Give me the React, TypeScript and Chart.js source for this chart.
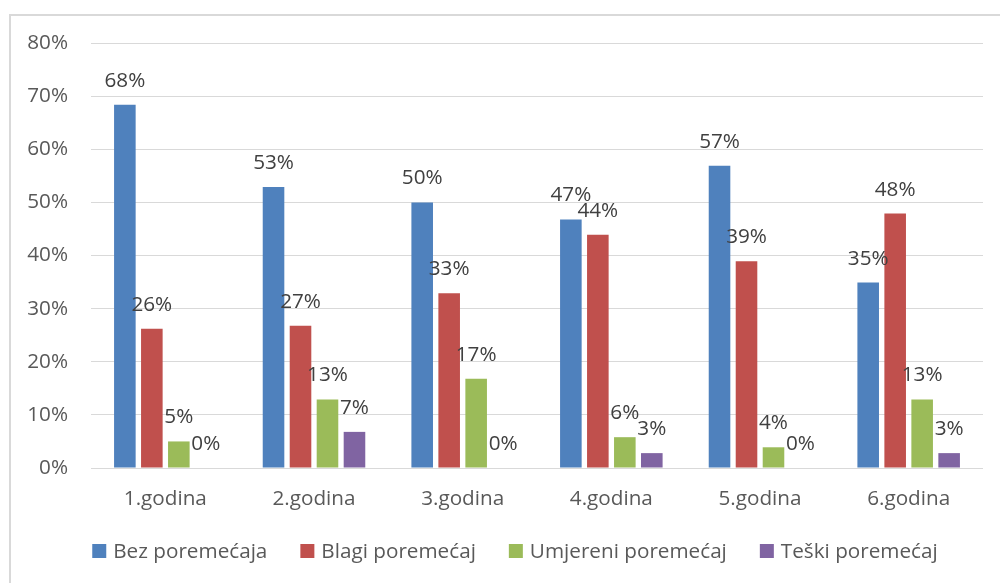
import React, { useEffect, useRef } from 'react';
import { Chart, registerables } from 'chart.js';

Chart.register(...registerables);

const categories = ['1.godina', '2.godina', '3.godina', '4.godina', '5.godina', '6.godina'];
const seriesNames = ['Bez poremećaja', 'Blagi poremećaj', 'Umjereni poremećaj', 'Teški poremećaj'];
const bezPoremecaja = [68.4, 52.9, 50.0, 46.8, 56.9, 34.9];
const blagiPoremecaj = [26.2, 26.8, 32.9, 43.9, 38.9, 47.9];
const umjereniPoremecaj = [5.0, 12.9, 16.8, 5.8, 3.9, 12.9];
const teskiPoremecaj = [0, 6.8, 0, 2.8, 0, 2.8];
const seriesColors = ['#4F81BD', '#C0504D', '#9BBB59', '#8064A2'];
const yMin = 0;
const yMax = 80;
const yStep = 10;

const FONT = '"Open Sans", "DejaVu Sans", sans-serif';
const FS = 20.7;

const framePlugin = {
  id: 'frame',
  beforeDraw(chart: any) {
    const ctx = chart.ctx;
    ctx.save();
    ctx.fillStyle = '#ffffff';
    ctx.fillRect(0, 0, chart.width, chart.height);
    ctx.strokeStyle = '#D9D9D9';
    ctx.lineWidth = 2;
    ctx.strokeRect(10, 15, chart.width + 40, chart.height + 40);
    ctx.restore();
  },
};

const valueLabelPlugin = {
  id: 'valueLabels',
  afterDatasetsDraw(chart: any) {
    const ctx = chart.ctx;
    ctx.save();
    ctx.font = `${FS}px ${FONT}`;
    ctx.fillStyle = '#404040';
    ctx.textAlign = 'center';
    ctx.textBaseline = 'alphabetic';
    chart.data.datasets.forEach((ds: any, i: number) => {
      const meta = chart.getDatasetMeta(i);
      meta.data.forEach((el: any, j: number) => {
        const v = ds.data[j] as number;
        ctx.fillText(Math.round(v) + '%', el.x, el.y - 18);
      });
    });
    ctx.restore();
  },
};

const legendPlugin = {
  id: 'customLegend',
  afterDraw(chart: any) {
    const ctx = chart.ctx;
    ctx.save();
    ctx.font = `${FS}px ${FONT}`;
    const box = 14;
    const gap = 7;
    const spacing = 33;
    const labels = chart.data.datasets.map((d: any) => d.label as string);
    const widths = labels.map((l: string) => ctx.measureText(l).width);
    const total = widths.reduce((a: number, w: number) => a + box + gap + w, 0) + spacing * (labels.length - 1);
    let x = 515 - total / 2;
    const cy = 551;
    labels.forEach((l: string, i: number) => {
      ctx.fillStyle = chart.data.datasets[i].backgroundColor;
      ctx.fillRect(x, cy - box / 2, box, box);
      ctx.fillStyle = '#595959';
      ctx.textAlign = 'left';
      ctx.textBaseline = 'middle';
      ctx.fillText(l, x + box + gap, cy + 1);
      x += box + gap + widths[i] + spacing;
    });
    ctx.restore();
  },
};

export default function App() {
  const canvasRef = useRef<HTMLCanvasElement | null>(null);

  useEffect(() => {
    document.body.style.margin = '0';
    const canvas = canvasRef.current;
    if (!canvas) return;
    const seriesData = [bezPoremecaja, blagiPoremecaj, umjereniPoremecaj, teskiPoremecaj];
    const chart = new Chart(canvas, {
      type: 'bar',
      data: {
        labels: categories,
        datasets: seriesNames.map((name, i) => ({
          label: name,
          data: seriesData[i],
          backgroundColor: seriesColors[i],
          borderWidth: 0,
          categoryPercentage: 0.726,
          barPercentage: 0.8,
        })),
      },
      options: {
        responsive: false,
        animation: false,
        devicePixelRatio: 1,
        layout: { padding: { left: 0, right: 17, top: 43, bottom: 69 } },
        plugins: {
          legend: { display: false },
          tooltip: { enabled: false },
        },
        scales: {
          x: {
            grid: { display: false, drawTicks: false },
            border: { display: false },
            ticks: {
              color: '#595959',
              font: { family: FONT, size: FS },
              padding: 19,
              maxRotation: 0,
            },
            afterFit: (s: any) => {
              s.height = 46;
            },
          },
          y: {
            min: yMin,
            max: yMax,
            grid: { color: '#D9D9D9', lineWidth: 1, drawTicks: false },
            border: { display: false },
            ticks: {
              stepSize: yStep,
              color: '#595959',
              font: { family: FONT, size: FS },
              padding: 23,
              callback: (v: any) => v + '%',
            },
            afterFit: (s: any) => {
              s.width = 91;
            },
          },
        },
      },
      plugins: [framePlugin, valueLabelPlugin, legendPlugin],
    });
    return () => chart.destroy();
  }, []);

  return (
    <div style={{ width: 1000, height: 583 }}>
      <canvas ref={canvasRef} width={1000} height={583} style={{ display: 'block' }} />
    </div>
  );
}
